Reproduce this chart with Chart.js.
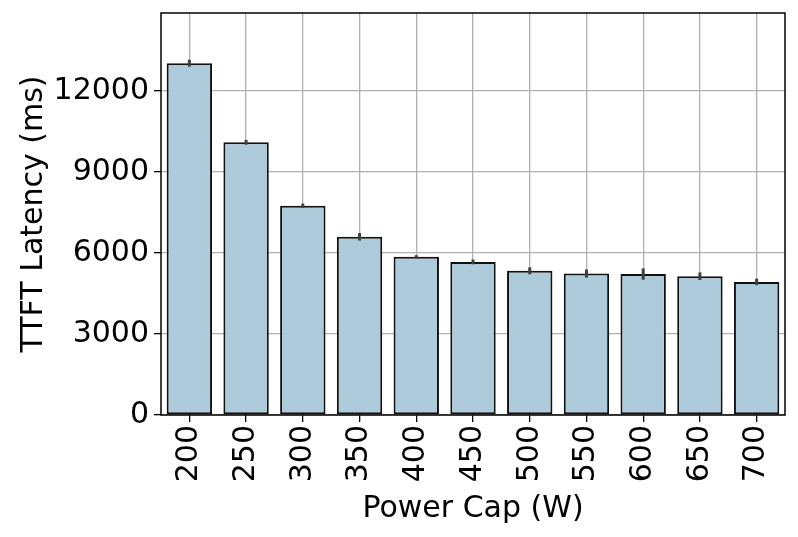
<!DOCTYPE html>
<html>
<head>
<meta charset="utf-8">
<script src="https://cdn.jsdelivr.net/npm/chart.js@4/dist/chart.umd.min.js"></script>
<style>
  body { margin: 0; background: white; }
  #wrap { width: 798px; height: 537px; }
</style>
</head>
<body>
<div id="wrap"><canvas id="barChart" width="798" height="537"></canvas></div>
<script>
// Power cap settings (x axis) and mean TTFT latency per cap.
const powerCaps = ['200', '250', '300', '350', '400', '450', '500', '550', '600', '650', '700'];
const latency   = [13030, 10100, 7750, 6600, 5860, 5670, 5340, 5240, 5220, 5140, 4930];
// Half-height of the error bar on each bar.
const latencyErr = [130, 90, 80, 140, 60, 90, 130, 150, 210, 140, 120];
// Y axis tick values.
const yTicks = [0, 3000, 6000, 9000, 12000];

const yMax = 14890;
const FONT = "'DejaVu Sans', sans-serif";
const FS = 30;
const PAD_LEFT = 16;

// Draw the frame and the small error bars on top of the grid.
const extras = {
  id: 'extras',
  afterDraw(chart) {
    const a = chart.chartArea;
    const ctx = chart.ctx;
    const y = chart.scales.y;
    const meta = chart.getDatasetMeta(0);
    ctx.save();
    ctx.strokeStyle = '#000';
    ctx.lineWidth = 1.5;
    ctx.strokeRect(a.left, a.top, a.right - a.left, a.bottom - a.top);
    ctx.strokeStyle = '#404040';
    ctx.lineWidth = 3;
    meta.data.forEach((bar, i) => {
      ctx.beginPath();
      ctx.moveTo(bar.x, y.getPixelForValue(latency[i] + latencyErr[i]));
      ctx.lineTo(bar.x, y.getPixelForValue(latency[i] - latencyErr[i]));
      ctx.stroke();
    });
    ctx.restore();
  }
};

new Chart(document.getElementById('barChart'), {
  type: 'bar',
  data: {
    labels: powerCaps,
    datasets: [{
      data: latency,
      backgroundColor: '#aecbdc',
      borderColor: '#111111',
      borderWidth: 2,
      borderSkipped: false,
      categoryPercentage: 0.8,
      barPercentage: 1.0
    }]
  },
  options: {
    responsive: false,
    animation: false,
    layout: { padding: { left: PAD_LEFT, right: 13, top: 13, bottom: 10 } },
    plugins: {
      legend: { display: false },
      tooltip: { enabled: false }
    },
    scales: {
      x: {
        z: 1,
        grid: { color: '#b0b0b0', lineWidth: 1.3, tickColor: '#000', tickLength: 7, offset: false },
        border: { display: false },
        ticks: { color: '#000', font: { family: FONT, size: FS }, minRotation: 90, maxRotation: 90, padding: 3 },
        title: { display: true, text: 'Power Cap (W)', color: '#000', font: { family: FONT, size: FS }, padding: { top: 0, bottom: 0 } },
        afterFit(scale) { scale.height = 537 - 415 - 10; scale.paddingLeft = 0; scale.paddingRight = 0; }
      },
      y: {
        z: 1,
        min: 0,
        max: yMax,
        grid: { color: '#b0b0b0', lineWidth: 1.3, tickColor: '#000', tickLength: 7 },
        border: { display: false },
        afterBuildTicks(scale) { scale.ticks = yTicks.map(v => ({ value: v })); },
        ticks: {
          color: '#000', font: { family: FONT, size: FS }, padding: 5,
          callback: (v) => String(v)
        },
        title: { display: true, text: 'TTFT Latency (ms)', color: '#000', font: { family: FONT, size: FS }, padding: { top: 0, bottom: 0 } },
        afterFit(scale) { scale.width = 161 - PAD_LEFT; scale.paddingTop = 0; scale.paddingBottom = 0; }
      }
    }
  },
  plugins: [extras]
});
</script>
</body>
</html>
